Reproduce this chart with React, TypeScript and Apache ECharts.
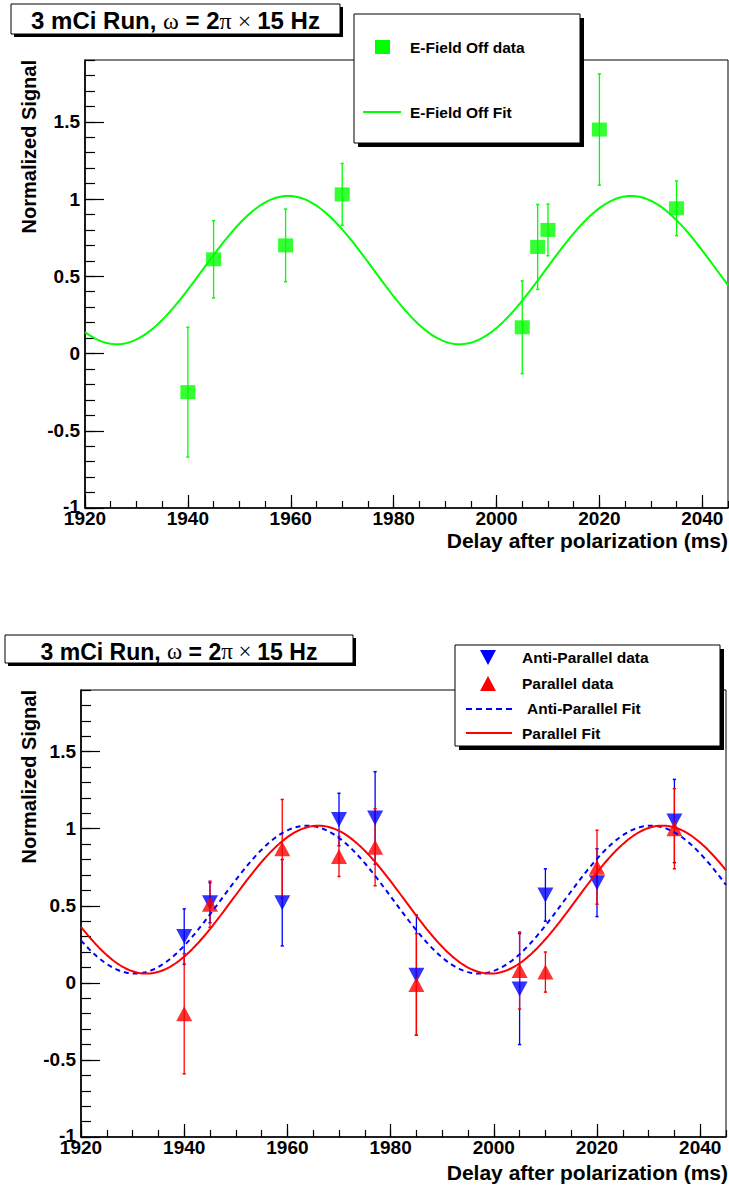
import React, { useEffect, useRef } from "react";
import * as echarts from "echarts";

// ---------- Data ----------
// Top panel: E-Field Off
const offX = [1940, 1945, 1959, 1970, 2005, 2008, 2010, 2020, 2035];
const offY = [-0.25, 0.61, 0.70, 1.03, 0.17, 0.69, 0.80, 1.45, 0.94];
const offErr = [0.42, 0.25, 0.235, 0.20, 0.30, 0.275, 0.167, 0.36, 0.177];

// Bottom panel: Anti-Parallel (blue, down triangles)
const antiX = [1940, 1945, 1959, 1970, 1977, 1985, 2005, 2010, 2020, 2035];
const antiY = [0.30, 0.52, 0.52, 1.06, 1.07, 0.05, -0.04, 0.57, 0.65, 1.05];
const antiErr = [0.18, 0.13, 0.28, 0.17, 0.30, 0.39, 0.36, 0.17, 0.22, 0.27];

// Bottom panel: Parallel (red, up triangles)
const parX = [1940, 1945, 1959, 1970, 1977, 1985, 2005, 2010, 2020, 2035];
const parY = [-0.20, 0.51, 0.87, 0.82, 0.88, -0.01, 0.08, 0.07, 0.75, 1.0];
const parErr = [0.39, 0.15, 0.32, 0.13, 0.25, 0.33, 0.25, 0.13, 0.24, 0.26];

// Fit parameters: offset + amplitude * cos(2*pi*f*(t - tPeak)), f = 15 Hz
const fitFreqHz = 15;
const fitOffset = [0.54, 0.54, 0.54]; // [off, anti, par]
const fitAmplitude = [0.48, 0.48, 0.48];
const fitPeakMs = [1959.5, 1963.8, 1966.0];

// Axis ranges / ticks
const xMin = 1920;
const xMax = 2045;
const xMajor = 20;
const xMinor = 5;
const yMin = -1;
const yMax = 1.9;
const yMajor = 0.5;
const yMinor = 0.1;

const fitCurve = (k: number) => {
  const pts: number[][] = [];
  for (let t = xMin; t <= xMax + 1e-9; t += 0.5) {
    pts.push([
      t,
      fitOffset[k] +
        fitAmplitude[k] * Math.cos((2 * Math.PI * fitFreqHz * (t - fitPeakMs[k])) / 1000),
    ]);
  }
  return pts;
};

const SANS = "Liberation Sans";
const SERIF = "Liberation Serif";
const GREEN = "#00ff00";
const BLUE = "#0000ff";
const RED = "#ff0000";

const errorBars = (color: string) => (params: any, api: any) => {
  const x = api.value(0);
  const y = api.value(1);
  const e = api.value(2);
  const p1 = api.coord([x, y + e]);
  const p2 = api.coord([x, y - e]);
  const c = 1.6;
  return {
    type: "group",
    children: [
      { type: "line", shape: { x1: p1[0], y1: p1[1], x2: p2[0], y2: p2[1] }, style: { stroke: color, lineWidth: 1.3 } },
      { type: "line", shape: { x1: p1[0] - c, y1: p1[1], x2: p1[0] + c, y2: p1[1] }, style: { stroke: color, lineWidth: 1.5 } },
      { type: "line", shape: { x1: p2[0] - c, y1: p2[1], x2: p2[0] + c, y2: p2[1] }, style: { stroke: color, lineWidth: 1.5 } },
    ],
  };
};

const xAxes = (grid: number) => [
  {
    gridIndex: grid,
    type: "value",
    position: "bottom",
    min: xMin,
    max: xMax,
    interval: xMajor,
    axisLine: { show: true, onZero: false, lineStyle: { color: "#000", width: 1.6 } },
    axisTick: { show: true, inside: true, length: 13, lineStyle: { color: "#000", width: 1.2 } },
    axisLabel: {
      show: true,
      margin: 3,
      fontSize: 19,
      lineHeight: 15,
      fontWeight: "bold",
      fontFamily: SANS,
      color: "#000",
      showMaxLabel: false,
      formatter: (v: number) => String(v),
    },
    splitLine: { show: false },
  },
  {
    gridIndex: grid,
    type: "value",
    position: "bottom",
    min: xMin,
    max: xMax,
    interval: xMinor,
    axisLine: { show: false, onZero: false },
    axisTick: { show: true, inside: true, length: 7, lineStyle: { color: "#000", width: 1.2 } },
    axisLabel: { show: false },
    splitLine: { show: false },
  },
];

const yAxes = (grid: number) => [
  {
    gridIndex: grid,
    type: "value",
    position: "left",
    min: yMin,
    max: yMax,
    interval: yMajor,
    axisLine: { show: true, onZero: false, lineStyle: { color: "#000", width: 1.6 } },
    axisTick: { show: true, inside: true, length: 19, lineStyle: { color: "#000", width: 1.2 } },
    axisLabel: {
      show: true,
      margin: 5,
      fontSize: 19,
      lineHeight: 15,
      fontWeight: "bold",
      fontFamily: SANS,
      color: "#000",
      showMaxLabel: false,
      formatter: (v: number) => (v === yMin ? "{low|" + String(v) + "}" : String(v)),
      rich: {
        low: { fontSize: 19, lineHeight: 2, fontWeight: "bold", fontFamily: SANS, color: "#000", padding: [0, 0, 4, 0] },
      },
    },
    splitLine: { show: false },
  },
  {
    gridIndex: grid,
    type: "value",
    position: "left",
    min: yMin,
    max: yMax,
    interval: yMinor,
    axisLine: { show: false, onZero: false },
    axisTick: { show: true, inside: true, length: 10, lineStyle: { color: "#000", width: 1.2 } },
    axisLabel: { show: false },
    splitLine: { show: false },
  },
];

const titleText = (cx: number, cy: number, size: number) => ({
  type: "text",
  x: cx,
  y: cy,
  style: {
    text: "{a|3 mCi Run, }{b|ω}{a| = 2}{b|π}{b| × }{a|15 Hz}",
    align: "center",
    verticalAlign: "middle",
    rich: {
      a: { fontFamily: SANS, fontWeight: "bold", fontSize: size, fill: "#000" },
      b: { fontFamily: SERIF, fontSize: size, fill: "#000" },
    },
  },
});

const shadowBox = (x: number, y: number, w: number, h: number, off: number) => [
  { type: "rect", shape: { x: x + off, y: y + off, width: w, height: h }, style: { fill: "#000" } },
  { type: "rect", shape: { x, y, width: w, height: h }, style: { fill: "#fff", stroke: "#000", lineWidth: 1 } },
];

const legendText = (x: number, y: number, text: string) => ({
  type: "text",
  x,
  y,
  style: {
    text,
    fontFamily: SANS,
    fontWeight: "bold",
    fontSize: 15.5,
    fill: "#000",
    align: "left",
    verticalAlign: "middle",
  },
});

const axisTitleX = (y: number) => ({
  type: "text",
  x: 728,
  y,
  style: {
    text: "Delay after polarization (ms)",
    fontFamily: SANS,
    fontWeight: "bold",
    fontSize: 21,
    lineHeight: 18,
    fill: "#000",
    align: "right",
    verticalAlign: "middle",
  },
});

const axisTitleY = (yTop: number) => ({
  type: "text",
  x: 29,
  y: yTop,
  rotation: Math.PI / 2,
  style: {
    text: "Normalized Signal",
    fontFamily: SANS,
    fontWeight: "bold",
    fontSize: 20,
    fill: "#000",
    align: "right",
    verticalAlign: "middle",
  },
});

export default function App() {
  const ref = useRef<HTMLDivElement>(null);

  useEffect(() => {
    if (!ref.current) return;
    const chart = echarts.init(ref.current, undefined, { renderer: "svg" });

    const option: any = {
      animation: false,
      backgroundColor: "#fff",
      grid: [
        { left: 85, top: 60, width: 643, height: 448, show: true, borderColor: "#000", borderWidth: 1, backgroundColor: "transparent" },
        { left: 81, top: 690, width: 645, height: 447, show: true, borderColor: "#000", borderWidth: 1, backgroundColor: "transparent" },
      ],
      xAxis: [...xAxes(0), ...xAxes(1)],
      yAxis: [...yAxes(0), ...yAxes(1)],
      series: [
        // Top panel
        {
          name: "E-Field Off Fit",
          type: "line",
          xAxisIndex: 0,
          yAxisIndex: 0,
          data: fitCurve(0),
          showSymbol: false,
          symbol: "none",
          lineStyle: { color: GREEN, width: 2 },
          silent: true,
        },
        {
          name: "E-Field Off errors",
          type: "custom",
          xAxisIndex: 0,
          yAxisIndex: 0,
          renderItem: errorBars(GREEN),
          encode: { x: 0, y: 1 },
          data: offX.map((x, i) => [x, offY[i], offErr[i]]),
          silent: true,
        },
        {
          name: "E-Field Off data",
          type: "scatter",
          xAxisIndex: 0,
          yAxisIndex: 0,
          symbol: "rect",
          symbolSize: [15, 14],
          itemStyle: { color: GREEN },
          data: offX.map((x, i) => [x, offY[i]]),
        },
        // Bottom panel
        {
          name: "Anti-Parallel Fit",
          type: "line",
          xAxisIndex: 2,
          yAxisIndex: 2,
          data: fitCurve(1),
          showSymbol: false,
          symbol: "none",
          lineStyle: { color: BLUE, width: 2, type: [5, 4] },
          silent: true,
        },
        {
          name: "Parallel Fit",
          type: "line",
          xAxisIndex: 2,
          yAxisIndex: 2,
          data: fitCurve(2),
          showSymbol: false,
          symbol: "none",
          lineStyle: { color: RED, width: 2 },
          silent: true,
        },
        {
          name: "Anti-Parallel errors",
          type: "custom",
          xAxisIndex: 2,
          yAxisIndex: 2,
          renderItem: errorBars(BLUE),
          encode: { x: 0, y: 1 },
          data: antiX.map((x, i) => [x, antiY[i], antiErr[i]]),
          silent: true,
        },
        {
          name: "Anti-Parallel data",
          type: "scatter",
          xAxisIndex: 2,
          yAxisIndex: 2,
          symbol: "triangle",
          symbolRotate: 180,
          symbolSize: [16, 15],
          itemStyle: { color: BLUE },
          data: antiX.map((x, i) => [x, antiY[i]]),
        },
        {
          name: "Parallel errors",
          type: "custom",
          xAxisIndex: 2,
          yAxisIndex: 2,
          renderItem: errorBars(RED),
          encode: { x: 0, y: 1 },
          data: parX.map((x, i) => [x, parY[i], parErr[i]]),
          silent: true,
        },
        {
          name: "Parallel data",
          type: "scatter",
          xAxisIndex: 2,
          yAxisIndex: 2,
          symbol: "triangle",
          symbolSize: [16, 15],
          itemStyle: { color: RED },
          data: parX.map((x, i) => [x, parY[i]]),
        },
      ],
      graphic: [
        // Axis titles
        axisTitleY(60),
        axisTitleY(690),
        axisTitleX(540),
        axisTitleX(1172),
        // Top title
        ...shadowBox(11, 4, 329, 30, 3),
        titleText(175.5, 20.5, 24),
        // Bottom title
        ...shadowBox(5, 635, 348, 28, 3),
        titleText(179, 651.5, 23),
        // Top legend
        ...shadowBox(354, 14, 226, 129, 4),
        { type: "rect", shape: { x: 375, y: 40, width: 15, height: 14 }, style: { fill: GREEN } },
        legendText(410, 47, "E-Field Off data"),
        { type: "line", shape: { x1: 363, y1: 112, x2: 401, y2: 112 }, style: { stroke: GREEN, lineWidth: 2 } },
        legendText(410, 112, "E-Field Off Fit"),
        // Bottom legend
        ...shadowBox(455, 645, 265, 101, 4),
        { type: "polygon", shape: { points: [[480, 650], [496, 650], [488, 665]] }, style: { fill: BLUE } },
        legendText(522, 657, "Anti-Parallel data"),
        { type: "polygon", shape: { points: [[480, 691], [496, 691], [488, 676]] }, style: { fill: RED } },
        legendText(522, 683, "Parallel data"),
        { type: "line", shape: { x1: 466, y1: 709, x2: 512, y2: 709 }, style: { stroke: BLUE, lineWidth: 2, lineDash: [6, 4] } },
        legendText(527, 708, "Anti-Parallel Fit"),
        { type: "line", shape: { x1: 466, y1: 733, x2: 512, y2: 733 }, style: { stroke: RED, lineWidth: 2 } },
        legendText(522, 733, "Parallel Fit"),
      ],
    };

    chart.setOption(option);
    return () => chart.dispose();
  }, []);

  return (
    <div
      ref={ref}
      style={{ position: "absolute", left: 0, top: 0, width: 729, height: 1187, background: "#fff" }}
    />
  );
}
